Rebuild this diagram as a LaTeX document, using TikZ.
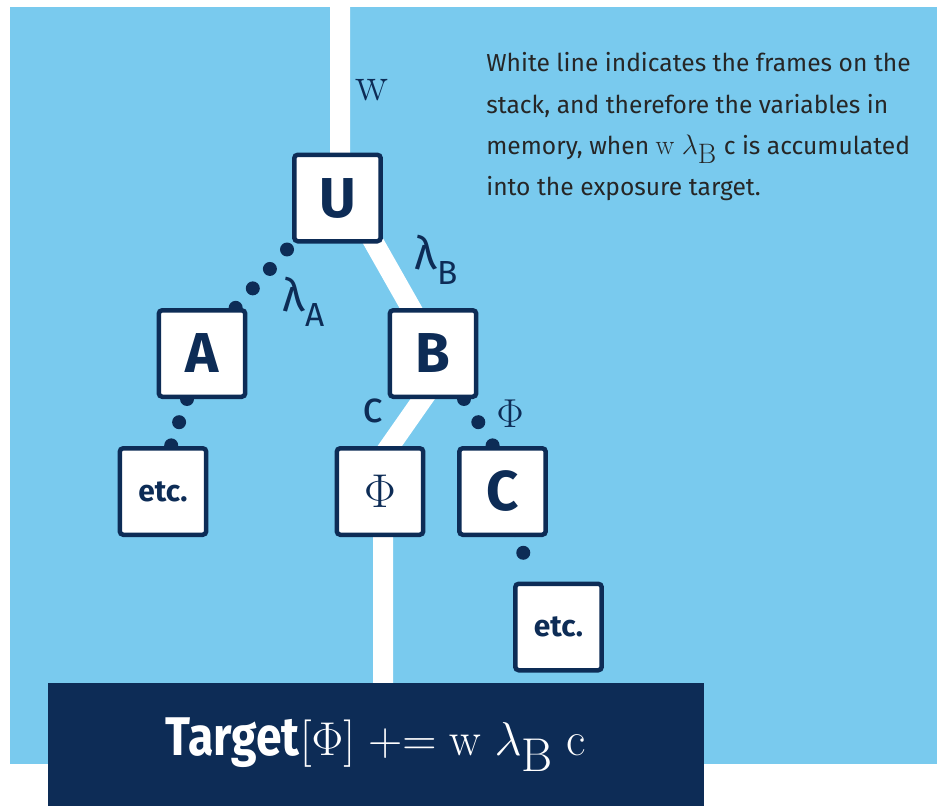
\RequirePackage{fix-cm}
\documentclass[tikz,border=0pt]{standalone}
\usepackage{fontspec}
\setsansfont{Fira Sans}
\newfontfamily\narrowsans[FakeStretch=0.85]{Fira Sans}
\usetikzlibrary{backgrounds}
\definecolor{skyblue}{HTML}{79CAEE}
\definecolor{navy}{HTML}{0D2C56}
\definecolor{inkgray}{HTML}{262626}
\tikzset{
  framebox/.style={
    draw=navy, line width=0.09cm, fill=white, rounded corners=2pt,
    minimum size=1.73cm, inner sep=0pt, text=navy
  },
  letterbox/.style={
    framebox, font=\sffamily\bfseries\fontsize{32}{32}\selectfont
  },
  etcbox/.style={
    framebox, font=\sffamily\bfseries\fontsize{17}{17}\selectfont
  },
  dotlink/.style={
    navy, line width=0.28cm, line cap=round, dash pattern=on 0pt off #1
  },
  stackline/.style={white, line width=0.4cm, line join=round},
  edgelabel/.style={text=navy, inner sep=0pt},
}
\newcommand{\lamsub}[1]{{\fontsize{26}{26}\selectfont λ}\raisebox{-0.3cm}{\fontsize{19}{19}\selectfont #1}}

\begin{document}
\begin{tikzpicture}[x=0.02cm, y=-0.02cm]
  \useasboundingbox (0,0) rectangle (937,806);

  % ── Frames ──
  \node[letterbox] (U) at (337.5,198) {U};
  \node[letterbox] (A) at (202,353.5) {A};
  \node[letterbox] (B) at (433,353.5) {B};
  \node[etcbox] (etcA) at (163,491.5) {etc.};
  \node[framebox, font=\fontsize{27}{27}\selectfont] (phi) at (380,491.5) {$\Phi$};
  \node[letterbox] (C) at (502.5,491.5) {C};
  \node[etcbox] (etcC) at (558.5,627) {etc.};

  % ── Labels ──
  \node[edgelabel, font=\fontsize{28}{28}\selectfont] (wlab) at (372,90) {$\mathrm{w}$};
  \node[edgelabel, font=\sffamily] (lamA) at (303.5,301.5) {\lamsub{A}};
  \node[edgelabel, font=\sffamily] (lamB) at (436,260) {\lamsub{B}};
  \node[edgelabel, font=\sffamily\fontsize{25}{25}\selectfont] (clab) at (373,411) {c};
  \node[edgelabel, font=\fontsize{23}{23}\selectfont] (philab) at (510,414) {$\Phi$};

  \node[anchor=north west, inner sep=0pt, align=left, text=inkgray,
    font=\sffamily\fontsize{14}{23.6}\selectfont] (note) at (486,52)
    {White line indicates the frames on the\\
     stack, and therefore the variables in\\
     memory, when {\fontsize{16}{16}\selectfont$\mathrm{w}\ \lambda_{\textstyle\mathrm{B}}$} c is accumulated\\
     into the exposure target.};

  % ── Accumulation ──
  \node[fill=navy, minimum width=13.12cm, minimum height=2.46cm, inner sep=0pt,
    text=white] (target) at (376,744.5)
    {{\narrowsans\bfseries\fontsize{31}{31}\selectfont Target}{\fontsize{27}{27}\selectfont$[\Phi]\mathrel{+}\mathrel{=}\mathrm{w}\;\lambda_{\textstyle\mathrm{B}}\;\mathrm{c}$}};

  % ── Stack line and calls ──
  \begin{scope}[on background layer]
    \fill[skyblue] (10,7) rectangle (937,764);
    \draw[stackline] (340,7) -- (340,200) -- (360,218) -- (428,338)
      -- (436,380) -- (373,470) -- (383,480) -- (383,683);
    \draw[dotlink=0.518cm] ([xshift=-0.1cm,yshift=-0.12cm]U.south west)
      -- ([xshift=-0.24cm]A.north east);
    \draw[dotlink=0.49cm] ([xshift=-0.3cm]A.south) -- ([xshift=0.16cm]etcA.north);
    \draw[dotlink=0.545cm] ([xshift=0.62cm]B.south) -- ([xshift=-0.19cm]C.north);
    \draw[dotlink=0.485cm] ([xshift=0.25cm,yshift=0.14cm]C.south)
      -- ([xshift=-0.54cm,yshift=0.12cm]etcC.north);
  \end{scope}
\end{tikzpicture}
\end{document}
